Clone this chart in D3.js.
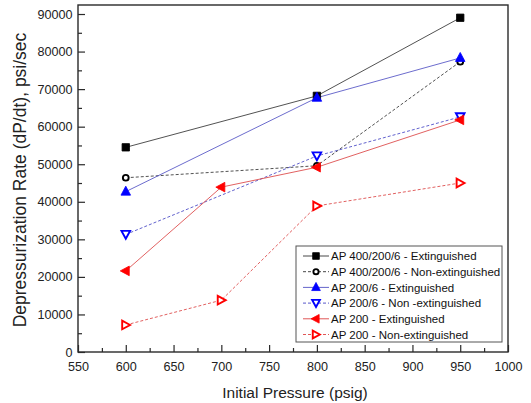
<!DOCTYPE html>
<html>
<head>
<meta charset="utf-8">
<script src="https://cdn.jsdelivr.net/npm/d3@7"></script>
<style>
  html, body { margin: 0; padding: 0; background: #fff; }
  svg { display: block; font-family: Arial, "Liberation Sans", sans-serif; }
</style>
</head>
<body>
<svg id="chart" width="531" height="403"></svg>
<script>
// ---- Data ----
const xTicks = [550, 600, 650, 700, 750, 800, 850, 900, 950, 1000];
const yTicks = [0, 10000, 20000, 30000, 40000, 50000, 60000, 70000, 80000, 90000];

const seriesNames = [
  "AP 400/200/6 - Extinguished",
  "AP 400/200/6 - Non-extinguished",
  "AP 200/6 - Extinguished",
  "AP 200/6 - Non -extinguished",
  "AP 200 - Extinguished",
  "AP 200 - Non-extinguished"
];
const pressA = [600, 800, 950];
const pressB = [600, 700, 800, 950];

const ap400Ext    = [54500, 68200, 89000];
const ap400NonExt = [46400, 49600, 77300];
const ap200_6Ext    = [42700, 67700, 78300];
const ap200_6NonExt = [31300, 52200, 62600];
const ap200Ext    = [21600, 43900, 49200, 61800];
const ap200NonExt = [7200, 13800, 38900, 45000];

const seriesX = [pressA, pressA, pressA, pressA, pressB, pressB];
const seriesY = [ap400Ext, ap400NonExt, ap200_6Ext, ap200_6NonExt, ap200Ext, ap200NonExt];

// ---- Styles ----
const styles = [
  { line: "#333", dash: null,  marker: "square",  fill: "#000", stroke: "#000" },
  { line: "#333", dash: "3,2", marker: "circle",  fill: "#fff", stroke: "#000" },
  { line: "#5252c4", dash: null,  marker: "triUp",   fill: "#0000ff", stroke: "#0000ff" },
  { line: "#4646c4", dash: "3,2", marker: "triDown", fill: "#fff", stroke: "#0000ff" },
  { line: "#dc4444", dash: null,  marker: "triLeft", fill: "#ff0000", stroke: "#ff0000" },
  { line: "#dc4444", dash: "3,2", marker: "triRight",fill: "#fff", stroke: "#ff0000" }
];

function markerPath(type, k) {
  k = k || 1;
  switch (type) {
    case "square": { const s = 3.7 * k; return `M${-s},${-s}H${s}V${s}H${-s}Z`; }
    case "triUp":    return `M0,${-5.5*k}L${4.8*k},${3.5*k}L${-4.8*k},${3.5*k}Z`;
    case "triDown":  return `M0,${4.3*k}L${4.3*k},${-3.6*k}L${-4.3*k},${-3.6*k}Z`;
    case "triLeft":  return `M${-5.5*k},0L${3.5*k},${-4.8*k}L${3.5*k},${4.8*k}Z`;
    case "triRight": return `M${4.3*k},0L${-3.6*k},${-4.3*k}L${-3.6*k},${4.3*k}Z`;
  }
  return "";
}

const svg = d3.select("#chart");
const L = 78, R = 508, T = 5, B = 352;

const x = d3.scaleLinear().domain([550, 1000]).range([L, R]);
const y = d3.scaleLinear().domain([0, 92400]).range([B, T]);

// Frame
svg.append("rect")
  .attr("x", L).attr("y", T).attr("width", R - L).attr("height", B - T)
  .attr("fill", "none").attr("stroke", "#2a2a2a").attr("stroke-width", 1.4);

// Axes
const yAxis = d3.axisLeft(y).tickValues(yTicks).tickSize(-7).tickPadding(5.5)
  .tickFormat(d3.format("d"));
const gy = svg.append("g").attr("transform", `translate(${L},0)`).call(yAxis);
const yMinor = d3.axisLeft(y).tickValues(d3.range(5000, 90000, 10000)).tickSize(-4).tickFormat("");
const gym = svg.append("g").attr("transform", `translate(${L},0)`).call(yMinor);

const xAxis = d3.axisBottom(x).tickValues(xTicks).tickSize(-7).tickPadding(10)
  .tickFormat(d3.format("d"));
const gx = svg.append("g").attr("transform", `translate(0,${B})`).call(xAxis);
const xMinor = d3.axisBottom(x).tickValues(d3.range(575, 1000, 50)).tickSize(-4).tickFormat("");
const gxm = svg.append("g").attr("transform", `translate(0,${B})`).call(xMinor);

[gy, gym, gx, gxm].forEach(g => {
  g.select(".domain").remove();
  g.selectAll(".tick line").attr("stroke", "#2a2a2a").attr("stroke-width", 1.2);
  g.selectAll("text").attr("font-size", "12.6px").attr("fill", "#222")
    .attr("font-family", "Arial, 'Liberation Sans', sans-serif");
});

// Axis titles
svg.append("text")
  .attr("x", 295).attr("y", 397.5)
  .attr("text-anchor", "middle")
  .attr("font-size", "15.5px").attr("fill", "#222")
  .text("Initial Pressure (psig)");

svg.append("text")
  .attr("transform", "translate(26,180) rotate(-90)")
  .attr("text-anchor", "middle")
  .attr("font-size", "17.5px").attr("fill", "#222")
  .text("Depressurization Rate (dP/dt), psi/sec");

// Lines
const lineGen = d3.line().x(d => x(d[0])).y(d => y(d[1]));
seriesY.forEach((vals, i) => {
  const pts = vals.map((v, j) => [seriesX[i][j], v]);
  const st = styles[i];
  svg.append("path")
    .attr("d", lineGen(pts))
    .attr("fill", "none")
    .attr("stroke", st.line)
    .attr("stroke-width", 0.85)
    .attr("stroke-dasharray", st.dash);
});

// Markers
function drawMarker(g, st, cx, cy, k) {
  if (st.marker === "circle") {
    g.append("circle").attr("cx", cx).attr("cy", cy).attr("r", 2.9 * k)
      .attr("fill", "#fff").attr("stroke", st.stroke).attr("stroke-width", 1.9);
  } else {
    const open = st.fill === "#fff";
    g.append("path")
      .attr("d", markerPath(st.marker, k))
      .attr("transform", `translate(${cx},${cy})`)
      .attr("fill", st.fill)
      .attr("stroke", st.stroke)
      .attr("stroke-width", open ? 1.9 : 0.8)
      .attr("stroke-linejoin", "miter");
  }
}
const mg = svg.append("g");
seriesY.forEach((vals, i) => {
  vals.forEach((v, j) => drawMarker(mg, styles[i], x(seriesX[i][j]), y(v), 1));
});

// Legend
const lg = svg.append("g");
lg.append("rect")
  .attr("x", 296).attr("y", 246).attr("width", 206).attr("height", 96)
  .attr("fill", "#fff").attr("stroke", "#555").attr("stroke-width", 1);
seriesNames.forEach((name, i) => {
  const ly = 256 + i * 15.7;
  const st = styles[i];
  lg.append("line")
    .attr("x1", 303).attr("x2", 329).attr("y1", ly).attr("y2", ly)
    .attr("stroke", st.line).attr("stroke-width", 0.9)
    .attr("stroke-dasharray", st.dash);
  drawMarker(lg, st, 316, ly, 0.9);
  lg.append("text")
    .attr("x", 331).attr("y", ly).attr("dy", "0.36em")
    .attr("font-size", "11.5px").attr("fill", "#111")
    .text(name);
});
</script>
</body>
</html>
